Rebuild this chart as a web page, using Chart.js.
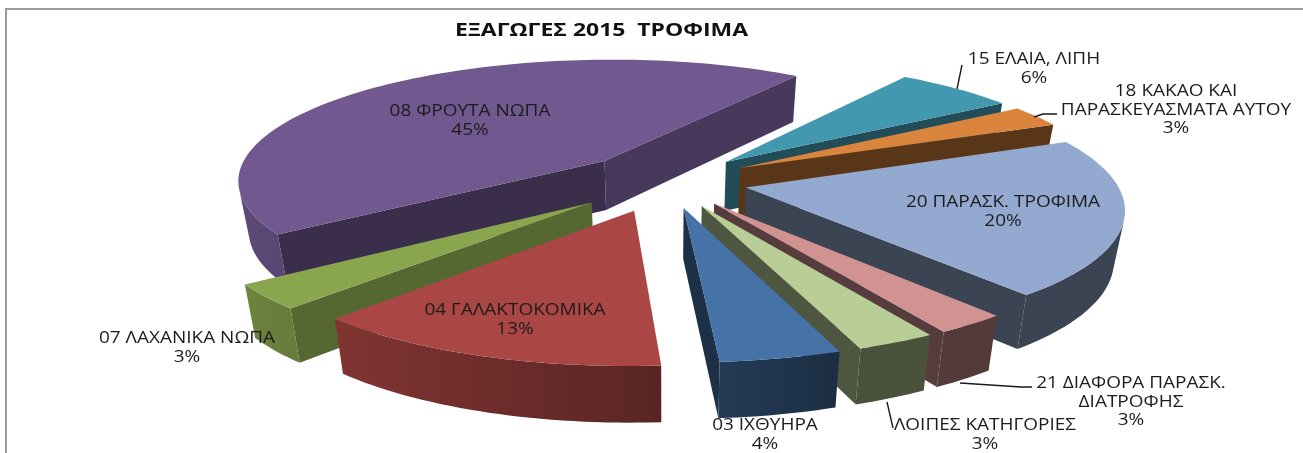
<!DOCTYPE html>
<html>
<head>
<meta charset="utf-8">
<style>
  html, body { margin: 0; padding: 0; background: #fff; overflow: hidden; }
  canvas { display: block; }
</style>
<script src="https://cdn.jsdelivr.net/npm/chart.js@4"></script>
</head>
<body>
<canvas id="c" width="1303" height="453"></canvas>
<script>
const chartTitle = "ΕΞΑΓΩΓΕΣ 2015  ΤΡΟΦΙΜΑ";
const categories = ["03 ΙΧΘΥΗΡΑ", "04 ΓΑΛΑΚΤΟΚΟΜΙΚΑ", "07 ΛΑΧΑΝΙΚΑ ΝΩΠΑ", "08 ΦΡΟΥΤΑ ΝΩΠΑ", "15 ΕΛΑΙΑ, ΛΙΠΗ",
  "18 ΚΑΚΑΟ ΚΑΙ ΠΑΡΑΣΚΕΥΑΣΜΑΤΑ ΑΥΤΟΥ", "20 ΠΑΡΑΣΚ. ΤΡΟΦΙΜΑ", "21 ΔΙΑΦΟΡΑ ΠΑΡΑΣΚ. ΔΙΑΤΡΟΦΗΣ", "ΛΟΙΠΕΣ ΚΑΤΗΓΟΡΙΕΣ"];
// the labels show them rounded
const shares = [4.4, 13.1, 3.2, 44.6, 6.1, 2.8, 20.3, 2.6, 2.9];
const colors = ["#4572A7", "#AA4643", "#89A54E", "#71588F", "#4198AF", "#DB843D", "#93A9CF", "#D19392", "#B9CD96"];
// explosion in percent of the radius, cut wall brightness
const explode = [22, 25, 26, 24, 23, 23, 22, 22, 22];
const cutShade = [0.42, 0.42, 0.63, 0.52, 0.5, 0.41, 0.4, 0.41, 0.42];

// label text lines (percent is added below), centre x and first line centre y
const labelLines = [["03 ΙΧΘΥΗΡΑ"], ["04 ΓΑΛΑΚΤΟΚΟΜΙΚΑ"], ["07 ΛΑΧΑΝΙΚΑ ΝΩΠΑ"], ["08 ΦΡΟΥΤΑ ΝΩΠΑ"], ["15 ΕΛΑΙΑ, ΛΙΠΗ"],
  ["18 ΚΑΚΑΟ ΚΑΙ", "ΠΑΡΑΣΚΕΥΑΣΜΑΤΑ ΑΥΤΟΥ"], ["20 ΠΑΡΑΣΚ. ΤΡΟΦΙΜΑ"], ["21 ΔΙΑΦΟΡΑ ΠΑΡΑΣΚ.", "ΔΙΑΤΡΟΦΗΣ"], ["ΛΟΙΠΕΣ ΚΑΤΗΓΟΡΙΕΣ"]];
const labelX = [765, 515, 187, 470, 1034, 1176, 1003, 1131, 985];
const labelY = [425, 310, 338, 111, 59, 91, 202, 383, 425];
const leaders = [
  [[962, 65], [957, 89]],
  [[1057, 114], [1043, 114], [1034, 117]],
  [[960, 383], [1021, 387], [1032, 387]],
  [[887, 402], [893, 428]],
];

// perspective of the pie plane
const view = { cx: 666, cy: 181, sx: 370, sy: 122, p: 0.15, q: 0.025, depth: 51 };

function project(u, v, z) {
  const w = (1 - view.p * v) * (1 + view.q * z);
  return [view.cx + view.sx * u / w, view.cy + (view.sy * v + z * view.depth) / w];
}

function shade(hex, f) {
  const n = parseInt(hex.slice(1), 16);
  const c = [n >> 16, (n >> 8) & 255, n & 255].map((x) => Math.round(x * f));
  return `rgb(${c[0]},${c[1]},${c[2]})`;
}

function fillPoly(ctx, pts, color) {
  ctx.beginPath();
  pts.forEach((p, i) => (i ? ctx.lineTo(p[0], p[1]) : ctx.moveTo(p[0], p[1])));
  ctx.closePath();
  ctx.fillStyle = color;
  ctx.fill();
}

function area(pts) {
  let a = 0;
  pts.forEach((p, i) => {
    const q = pts[(i + 1) % pts.length];
    a += p[0] * q[1] - q[0] * p[1];
  });
  return a / 2;
}

function stretchedText(ctx, text, x, y, sx) {
  ctx.save();
  ctx.translate(x, y);
  ctx.scale(sx, 1);
  ctx.fillText(text, 0, 0);
  ctx.restore();
}

const pie3d = {
  id: "pie3d",
  beforeDatasetDraw(chart) {
    const ctx = chart.ctx;
    const arcs = chart.getDatasetMeta(0).data;

    const slices = arcs.map((el, i) => {
      const { startAngle, endAngle } = el.getProps(["startAngle", "endAngle"]);
      const mid = (startAngle + endAngle) / 2;
      const e = el.options.offset / 100;
      return { i, startAngle, endAngle, mid, ou: Math.cos(mid) * e, ov: Math.sin(mid) * e };
    });

    // back to front
    slices.sort((a, b) => Math.sin(a.mid) - Math.sin(b.mid));

    slices.forEach((s) => {
      const color = colors[s.i];
      const steps = Math.max(4, Math.ceil((s.endAngle - s.startAngle) / 0.025));
      const rim = [];
      for (let k = 0; k <= steps; k++) {
        const a = s.startAngle + (s.endAngle - s.startAngle) * k / steps;
        rim.push([s.ou + Math.cos(a), s.ov + Math.sin(a), a]);
      }
      const top = [project(s.ou, s.ov, 0), ...rim.map((r) => project(r[0], r[1], 0))];
      const sign = Math.sign(area(top));
      const facing = (a, b) =>
        Math.sign(area([project(a[0], a[1], 0), project(b[0], b[1], 0), project(b[0], b[1], 1), project(a[0], a[1], 1)])) !== sign;

      const cut = (a, b, c) => {
        if (!facing(a, b)) return;
        fillPoly(ctx, [project(a[0], a[1], 0), project(b[0], b[1], 0), project(b[0], b[1], 1), project(a[0], a[1], 1)], c);
      };

      const apex = [s.ou, s.ov];
      cut(apex, rim[0], shade(color, cutShade[s.i]));
      cut(rim[steps], apex, shade(color, cutShade[s.i] * (s.i === 3 ? 1.22 : 1)));

      // outer wall: one polygon for the rim part that faces the viewer, shaded left to right
      const front = [];
      for (let k = 0; k <= steps; k++) {
        if ((k < steps && facing(rim[k], rim[k + 1])) || (k > 0 && facing(rim[k - 1], rim[k]))) front.push(rim[k]);
      }
      if (front.length > 1) {
        const upper = front.map((r) => project(r[0], r[1], 0));
        const lower = front.map((r) => project(r[0], r[1], 1)).reverse();
        const x0 = upper[0][0];
        const x1 = upper[upper.length - 1][0];
        const grad = ctx.createLinearGradient(x0, 0, x1, 0);
        front.forEach((r, k) => {
          const u = Math.cos(r[2]);
          const f = u < 0 ? 0.55 + 0.3 * -u : Math.max(0.4, 0.55 - 0.45 * u);
          const t = Math.min(1, Math.max(0, (upper[k][0] - x0) / (x1 - x0)));
          grad.addColorStop(t, shade(color, f));
        });
        fillPoly(ctx, [...upper, ...lower], grad);
      }
      fillPoly(ctx, top, color);
    });
    return false;
  },
  afterDraw(chart) {
    const ctx = chart.ctx;
    const total = shares.reduce((a, b) => a + b, 0);

    // frame
    ctx.strokeStyle = "#9a9a9a";
    ctx.lineWidth = 2;
    ctx.beginPath();
    ctx.moveTo(6, 453);
    ctx.lineTo(6, 9);
    ctx.lineTo(1303, 9);
    ctx.stroke();

    // leader lines
    ctx.strokeStyle = "#1a1a1a";
    ctx.lineWidth = 1.4;
    leaders.forEach((line) => {
      ctx.beginPath();
      line.forEach((p, i) => (i ? ctx.lineTo(p[0], p[1]) : ctx.moveTo(p[0], p[1])));
      ctx.stroke();
    });

    ctx.textAlign = "center";
    ctx.textBaseline = "middle";

    ctx.font = "bold 17px 'Open Sans'";
    ctx.fillStyle = "#111";
    stretchedText(ctx, chartTitle, 601.5, 31, 1.35);

    ctx.font = "16.5px 'Open Sans'";
    ctx.fillStyle = "#1c1c1c";
    labelLines.forEach((lines, i) => {
      const all = [...lines, Math.round(shares[i] / total * 100) + "%"];
      all.forEach((t, k) => stretchedText(ctx, t, labelX[i], labelY[i] + 0.5 + k * 18.3, 1.15));
    });
  },
};

new Chart(document.getElementById("c"), {
  type: "pie",
  data: {
    labels: categories,
    datasets: [{ data: shares, backgroundColor: colors, offset: explode, rotation: 160, borderWidth: 0 }],
  },
  options: {
    responsive: false,
    animation: false,
    plugins: {
      legend: { display: false },
      tooltip: { enabled: false },
    },
  },
  plugins: [pie3d],
});
</script>
</body>
</html>
